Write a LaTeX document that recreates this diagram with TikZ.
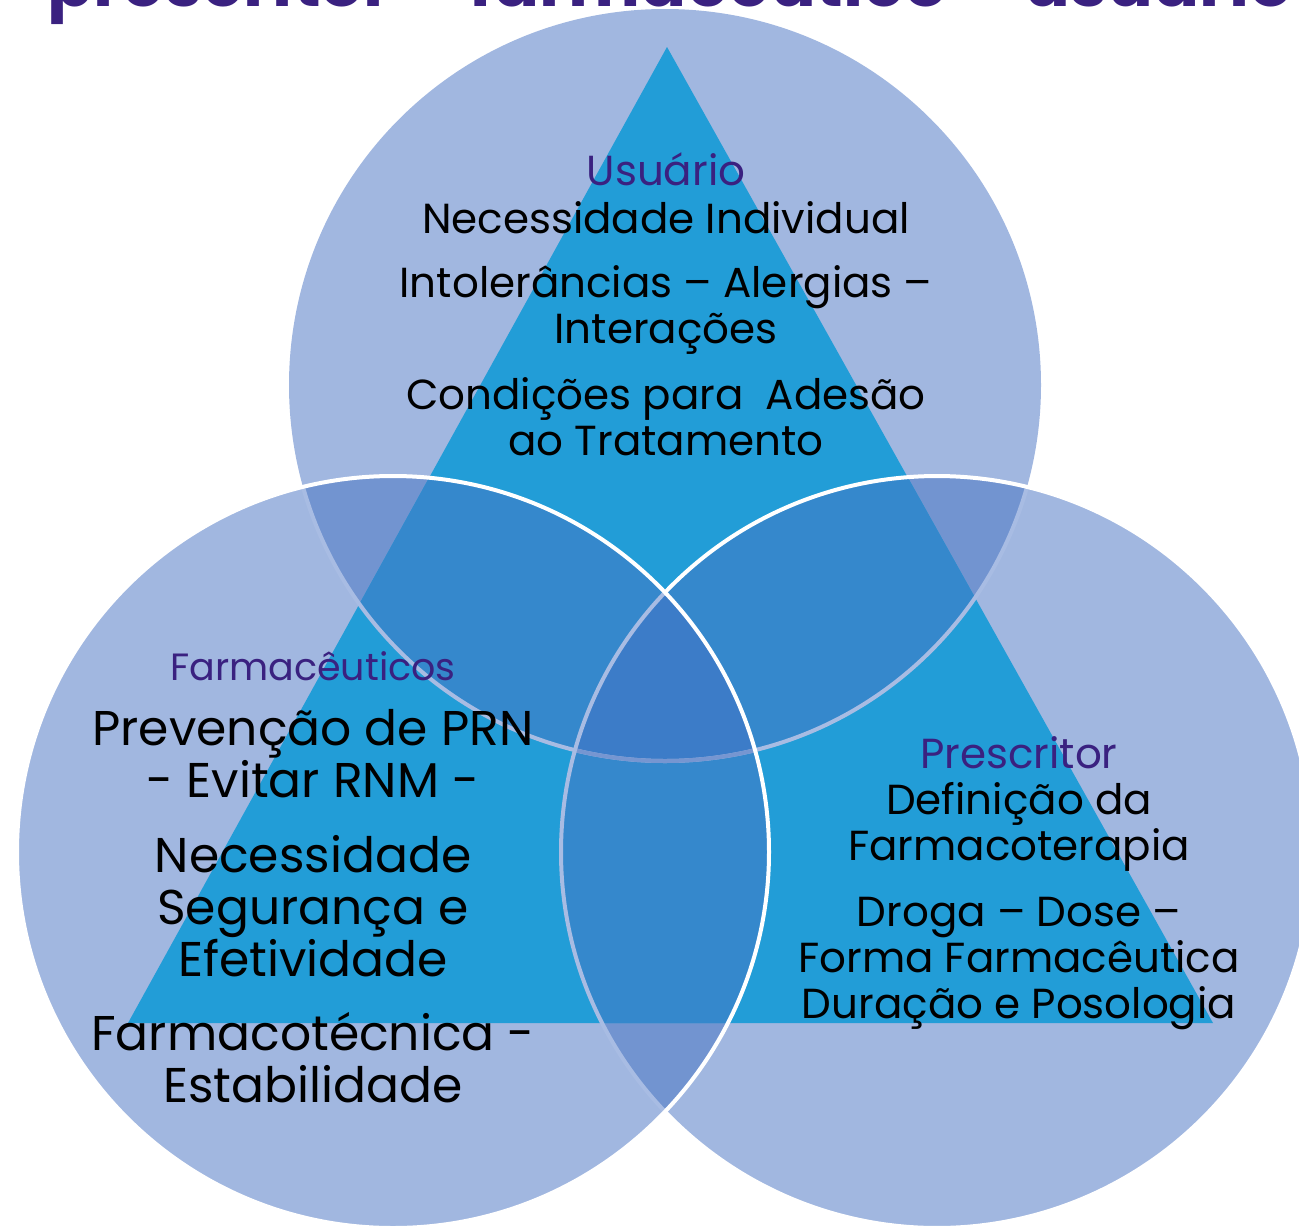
\documentclass[tikz,border=0pt]{standalone}
\usepackage{fontspec}
\setmainfont{Poppins}
\usetikzlibrary{positioning, calc}
\definecolor{circlefill}{HTML}{A1B7E0}
\definecolor{pairfill}{HTML}{7294D0}
\definecolor{trianglefill}{HTML}{229DD7}
\definecolor{pairtrifill}{HTML}{3588CC}
\definecolor{centerfill}{HTML}{3C7CC8}
\definecolor{faintline}{HTML}{A8BCE3}
\definecolor{fainterline}{HTML}{7696D1}
\definecolor{headcolor}{HTML}{3A2180}
\tikzset{
    headlabel/.style={
        inner sep=0pt, anchor=base, text=headcolor,
        font=\fontsize{31.5}{34.5}\selectfont
    },
    bodytext/.style={
        inner sep=0pt, anchor=base, align=center,
        font=\fontsize{31.5}{34.5}\selectfont
    },
    bigtext/.style={
        bodytext, font=\fontsize{36.6}{39}\selectfont
    },
    ring/.style={white, line width=3pt},
    faintring/.style={faintline, line width=3pt}
}

\begin{document}
\begin{tikzpicture}[x=0.75pt, y=-0.75pt]

\useasboundingbox (0,0) rectangle (1299,1228);
\clip (0,0) rectangle (1299,1228);
\def\rad{376}

% Circle centres and triangle corners
\coordinate (ctop) at (665,385);
\coordinate (cleft) at (393,852);
\coordinate (cright) at (937,852);
\coordinate (apex) at (667,47);
\coordinate (baseleft) at (128,1023);
\coordinate (baseright) at (1213,1023);

% Circles
\fill[circlefill] (ctop) circle[radius=\rad];
\fill[circlefill] (cleft) circle[radius=\rad];
\fill[circlefill] (cright) circle[radius=\rad];

% Pairwise overlaps
\begin{scope}
\clip (ctop) circle[radius=\rad];
\fill[pairfill] (cleft) circle[radius=\rad];
\fill[pairfill] (cright) circle[radius=\rad];
\end{scope}
\begin{scope}
\clip (cleft) circle[radius=\rad];
\fill[pairfill] (cright) circle[radius=\rad];
\end{scope}

% Triangle
\fill[trianglefill] (apex) -- (baseleft) -- (baseright) -- cycle;
\begin{scope}
\clip (apex) -- (baseleft) -- (baseright) -- cycle;
\begin{scope}
\clip (ctop) circle[radius=\rad];
\fill[pairtrifill] (cleft) circle[radius=\rad];
\fill[pairtrifill] (cright) circle[radius=\rad];
\end{scope}
\begin{scope}
\clip (cleft) circle[radius=\rad];
\fill[pairtrifill] (cright) circle[radius=\rad];
\end{scope}
\end{scope}

% Centre
\begin{scope}
\clip (ctop) circle[radius=\rad];
\clip (cleft) circle[radius=\rad];
\fill[centerfill] (cright) circle[radius=\rad];
\end{scope}

% Outlines
\begin{scope}
\clip (cleft) circle[radius=\rad] (cright) circle[radius=\rad];
\draw[faintring] (ctop) circle[radius=\rad];
\end{scope}
\begin{scope}
\clip (cleft) circle[radius=\rad];
\clip (cright) circle[radius=\rad];
\draw[ring, draw=fainterline] (ctop) circle[radius=\rad];
\end{scope}
\begin{scope}
\clip (cleft) circle[radius=\rad];
\draw[faintring] (cright) circle[radius=\rad];
\end{scope}
\draw[ring] ($(cright)+(-136.3:\rad)$) arc[start angle=-136.3, end angle=136.3, radius=\rad];
\draw[ring] (cleft) circle[radius=\rad];

% Title
\node[inner sep=0pt, anchor=base, text=headcolor, font=\fontsize{51}{55}\selectfont\bfseries] (title) at (670,6) {prescritor – farmacêutico – usuário};

% Usuario
\node[headlabel] (usuario) at (666,185) {Usuário};
\node[bodytext] (necind) at (666,233) {Necessidade Individual};
\node[bodytext] (intol) at (666,343) {Intolerâncias – Alergias –\\Interações};
\node[bodytext] (adesao) at (666,455) {Condições para~ Adesão\\ao Tratamento};

% Farmaceuticos
\node[headlabel, font=\fontsize{28.5}{31}\selectfont] (farma) at (313,680) {Farmacêuticos};
\node[bigtext] (prev) at (313,797) {Prevenção de PRN\\- Evitar RNM -};
\node[bigtext] (neces) at (313,976) {Necessidade\\Segurança e\\Efetividade};
\node[bigtext] (tecnica) at (313,1102) {Farmacotécnica -\\Estabilidade};

% Prescritor
\node[headlabel] (prescr) at (1019,768) {Prescritor};
\node[bodytext] (defin) at (1019,860) {Definição da\\Farmacoterapia};
\node[bodytext] (droga) at (1019,1018) {Droga – Dose –\\Forma Farmacêutica\\Duração e Posologia};

\end{tikzpicture}
\end{document}
